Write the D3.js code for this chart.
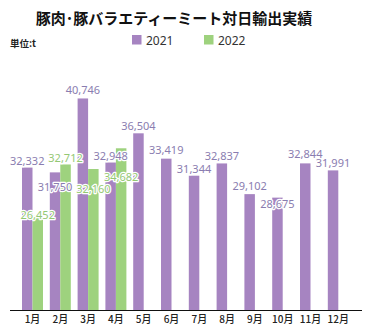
<!DOCTYPE html>
<html>
<head>
<meta charset="utf-8">
<script src="https://cdn.jsdelivr.net/npm/d3@7"></script>
<style>
  body { margin: 0; background: #fff; }
  svg { display: block; }
</style>
</head>
<body>
<script>
const canvWidth = 371, canvHeight = 334;

const months = ["1月", "2月", "3月", "4月", "5月", "6月", "7月", "8月", "9月", "10月", "11月", "12月"];
const years = ["2021", "2022"];
const values2021 = [32332, 31750, 40746, 32948, 36504, 33419, 31344, 32837, 29102, 28675, 32844, 31991];
const values2022 = [26452, 32712, 32160, 34682];

// vertical nudge for each value label (px, relative to the bar top)
const labelNudge2021 = [-3, 19, -4, -3, -3, -5, -3, -3, -4, 10, -5, -3];
const labelNudge2022 = [3, -2, 24, 33];

const colors = {"2021": "#a684c1", "2022": "#9ed27e"};
const labelColors = {"2021": "#8a7db0", "2022": "#94c874"};

const svg = d3.select("body").append("svg")
    .attr("width", canvWidth)
    .attr("height", canvHeight);

svg.append("text")
    .attr("x", 174)
    .attr("y", 24)
    .attr("text-anchor", "middle")
    .attr("font-family", "'Noto Sans CJK JP', sans-serif")
    .attr("font-weight", "bold")
    .attr("font-size", "15px")
    .attr("fill", "#111")
    .text("豚肉･豚バラエティーミート対日輸出実績");

svg.append("text")
    .attr("x", 10)
    .attr("y", 47)
    .attr("font-family", "'Noto Sans CJK JP', sans-serif")
    .attr("font-weight", "bold")
    .attr("font-size", "9.5px")
    .attr("fill", "#222")
    .text("単位:t");

// legend
const legend = svg.append("g").attr("id", "legend");
const legendX = [132, 204];
years.forEach((y, i) => {
    legend.append("rect")
        .attr("x", legendX[i])
        .attr("y", 35)
        .attr("width", 9.5)
        .attr("height", 9.5)
        .attr("fill", colors[y]);
    legend.append("text")
        .attr("x", legendX[i] + 14)
        .attr("y", 44.5)
        .attr("font-family", "'Noto Sans', sans-serif")
        .attr("font-size", "12px")
        .attr("fill", "#333")
        .text(y);
});

const bars = [];
months.forEach((m, i) => {
    bars.push({month: m, year: "2021", value: values2021[i], nudge: labelNudge2021[i]});
    if (values2022[i] !== undefined)
        bars.push({month: m, year: "2022", value: values2022[i], nudge: labelNudge2022[i]});
});

const x0 = d3.scaleBand()
    .domain(months)
    .range([18.6, 352.2])
    .paddingInner(0.245)
    .paddingOuter(0.1225);

const x1 = d3.scaleBand()
    .domain(years)
    .range([0, x0.bandwidth()]);

const yScale = d3.scaleLinear()
    .domain([15000, 45000])
    .range([310, 63.5]);

const barX = d => x0(d.month) + x1(d.year);

svg.append("g")
    .attr("id", "bars")
    .selectAll("rect")
    .data(bars)
    .enter().append("rect")
    .attr("x", barX)
    .attr("y", d => yScale(d.value))
    .attr("width", x1.bandwidth())
    .attr("height", d => yScale.range()[0] - yScale(d.value))
    .attr("fill", d => colors[d.year]);

// x axis: baseline plus month labels
const xAxis = d3.axisBottom(x0).tickSize(0).tickPadding(6);
const axisG = svg.append("g")
    .attr("transform", "translate(0,310)")
    .call(xAxis);
axisG.select(".domain").remove();
axisG.selectAll("text")
    .attr("font-family", "'Noto Sans CJK JP', sans-serif")
    .attr("font-size", "10px")
    .attr("font-weight", "500")
    .attr("fill", "#222");

svg.append("line")
    .attr("x1", 10)
    .attr("x2", 362)
    .attr("y1", 310.5)
    .attr("y2", 310.5)
    .attr("stroke", "#111")
    .attr("stroke-width", 1.2);

// value labels on top of all bars, with white halo
svg.append("g")
    .attr("id", "labels")
    .selectAll("text")
    .data(bars)
    .enter().append("text")
    .attr("x", d => barX(d) + x1.bandwidth() / 2)
    .attr("y", d => yScale(d.value) + d.nudge)
    .attr("text-anchor", "middle")
    .attr("font-family", "'Noto Sans', sans-serif")
    .attr("font-size", "11px")
    .attr("fill", d => labelColors[d.year])
    .attr("stroke", "#fff")
    .attr("stroke-width", 2.5)
    .attr("stroke-linejoin", "round")
    .attr("paint-order", "stroke")
    .text(d => d3.format(",")(d.value));
</script>
</body>
</html>
